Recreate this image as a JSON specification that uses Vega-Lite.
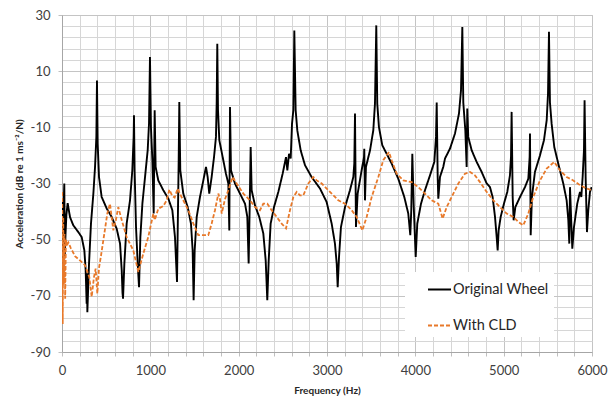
{
"$schema": "https://vega.github.io/schema/vega-lite/v6.json",
"width": 530, "height": 337,
"autosize": {"type": "none"},
"padding": {"left": 62, "top": 15, "right": 18, "bottom": 51},
"background": "white",
"config": {
  "view": {"stroke": "#bfbfbf"},
  "font": "Lato",
  "legend": {"orient": "none", "legendX": 343, "legendY": 257, "fillColor": "white", "padding": 5, "symbolType": "stroke", "symbolSize": 529, "symbolStrokeWidth": 2, "symbolOffset": 17, "labelOffset": 1, "labelFontSize": 14.5, "labelColor": "#262626", "labelFont": "Lato", "rowPadding": 17, "labelLimit": 300}
},
"datasets": {
"orig": [
[0,-36],[5,-58],[10,-40],[16,-62],[22,-34],[26,-30],[32,-56],[40,-48],[50,-41],[64,-37],[91,-42],[128,-44.9],[185,-47.3],[223,-49.1],[253,-53.8],[268,-60.9],[279,-72.8],[283,-62],[287,-75.8],[306,-58.5],[328,-44.3],[355,-33.6],[374,-24.1],[389,-13.4],[396,6.7],[404,-15.8],[419,-27.7],[449,-34.8],[506,-38.9],[562,-41.9],[619,-46.1],[657,-51.4],[676,-60.9],[685,-69],[691,-71],[706,-58.5],[732,-44.3],[770,-36],[796,-25.3],[811,-13.4],[815,-5.7],[822,-25.3],[838,-45.5],[857,-58.5],[872,-66.9],[887,-49.1],[910,-37.2],[940,-27.7],[970,-18.2],[985,-8.7],[996,15],[1007,-9.9],[1023,-21.7],[1038,-40.7],[1049,-3.9],[1060,-24.1],[1090,-28.9],[1147,-32.4],[1204,-35.4],[1249,-39.5],[1279,-49.1],[1302,-65.1],[1313,-39.5],[1321,-21.7],[1328,-1],[1339,-25.3],[1373,-33.6],[1423,-38.4],[1460,-44.3],[1479,-53.8],[1490,-71.6],[1502,-53.8],[1525,-41.9],[1562,-34.8],[1600,-28.9],[1630,-24.1],[1649,-27.7],[1667,-33.6],[1694,-27.7],[1721,-20.6],[1743,-13.4],[1751,-1.6],[1758,19.8],[1766,-3.9],[1781,-14.6],[1819,-20.6],[1856,-26.5],[1883,-30],[1894,-46.7],[1902,-2.8],[1913,-25.3],[1958,-30],[2015,-33.6],[2072,-37.2],[2098,-41.9],[2113,-58.5],[2124,-39.5],[2136,-17],[2147,-32.4],[2185,-37.8],[2233,-41.9],[2279,-47.8],[2306,-57.4],[2324,-71.6],[2340,-57.4],[2362,-44.3],[2400,-38.4],[2449,-33],[2498,-26.5],[2536,-20.6],[2551,-25.3],[2570,-19.4],[2589,-21.1],[2604,-8.7],[2619,-3.9],[2630,24.5],[2645,-3.9],[2664,-11.1],[2702,-18.2],[2751,-23.5],[2826,-27.7],[2921,-31.8],[2996,-36.6],[3053,-44.3],[3090,-51.4],[3110,-58.5],[3121,-66.9],[3136,-56.2],[3158,-45.5],[3204,-38.4],[3260,-32.4],[3298,-27.7],[3309,-22.9],[3317,-5.1],[3328,-45.5],[3347,-33.6],[3392,-25.3],[3419,-20.6],[3422,-17.6],[3430,-36],[3441,-24.1],[3487,-18.2],[3524,-11.1],[3543,-1.6],[3558,26.3],[3569,-1.6],[3588,-9.9],[3626,-16.4],[3675,-19.4],[3732,-22.9],[3807,-28.3],[3875,-34.8],[3920,-40.7],[3943,-48.4],[3954,-39.5],[3966,-19.4],[3981,-37.2],[4004,-56.2],[4022,-44.3],[4064,-37.2],[4109,-32.4],[4166,-27.1],[4215,-22.3],[4234,-13.4],[4242,-1.2],[4253,-27.7],[4260,-35.4],[4279,-27.7],[4316,-24.1],[4336,-21.1],[4392,-17.6],[4449,-12.2],[4494,-5.1],[4517,3.2],[4532,25.7],[4543,-1.2],[4566,-11.1],[4581,-24.1],[4588,-3.3],[4599,-13.4],[4638,-18.2],[4694,-22.3],[4751,-25.9],[4808,-30],[4845,-31.3],[4875,-34.8],[4902,-41.9],[4921,-49.1],[4932,-53.8],[4943,-46.7],[4966,-41.9],[5003,-37.2],[5041,-33],[5071,-27.1],[5083,-20.6],[5090,-4.5],[5102,-34.8],[5113,-43.1],[5132,-38.4],[5185,-34.8],[5241,-31.3],[5279,-28.3],[5294,-20.6],[5298,-12.2],[5306,-48.4],[5320,-34.8],[5354,-25.9],[5411,-20],[5456,-14.6],[5487,-7.5],[5502,2],[5513,24],[5524,-1.2],[5543,-8.7],[5573,-17],[5618,-22.9],[5675,-30],[5713,-36],[5732,-43.1],[5743,-51.4],[5751,-31.3],[5766,-44.3],[5777,-53.2],[5796,-45.5],[5833,-37.2],[5864,-33],[5879,-34.8],[5894,-27.7],[5909,-18.2],[5916,-0.4],[5928,-27.7],[5943,-47.3],[5958,-39.5],[5977,-33],[5996,-31.3]
],
"cld": [
[2,-33],[8,-80],[14,-42],[20,-66],[28,-48],[36,-71],[44,-50],[55,-52],[72,-51],[100,-53],[150,-56],[204,-57.4],[260,-59.1],[309,-63.3],[336,-70.4],[362,-63.3],[381,-60.3],[400,-69.2],[419,-60],[440,-56],[468,-50.2],[513,-40.7],[543,-37.2],[581,-46.7],[610,-43],[637,-38.4],[676,-43],[732,-49.1],[807,-53.8],[864,-61.5],[920,-55],[977,-49],[1034,-40.7],[1050,-43],[1090,-39],[1147,-38],[1185,-36],[1215,-32.2],[1250,-34.5],[1275,-35],[1310,-31.8],[1340,-34],[1373,-36],[1430,-39.5],[1487,-44.3],[1543,-48.4],[1656,-48.4],[1694,-44.3],[1732,-39.5],[1770,-33.6],[1789,-35.6],[1808,-40.7],[1845,-35.6],[1883,-32.4],[1932,-27.7],[1977,-30],[2053,-33.6],[2128,-36],[2185,-38.4],[2241,-39.5],[2279,-37.2],[2324,-37.2],[2373,-39.5],[2430,-41.9],[2487,-44.3],[2536,-46],[2581,-39.5],[2619,-34.8],[2657,-33],[2694,-34.2],[2732,-34.2],[2789,-30],[2845,-27.7],[2883,-28.9],[2940,-30],[2996,-31.8],[3053,-33.6],[3128,-36],[3204,-37.2],[3279,-39.5],[3336,-41.9],[3400,-46.7],[3449,-41.9],[3506,-34.8],[3581,-27.7],[3637,-21.7],[3702,-18.8],[3732,-21.7],[3789,-26.5],[3864,-28.9],[3958,-29.5],[4034,-31.3],[4109,-33.6],[4185,-36],[4260,-37.2],[4309,-42.5],[4355,-38.4],[4411,-34.8],[4487,-30],[4562,-26.5],[4619,-25.9],[4675,-27.1],[4732,-29.5],[4808,-33],[4883,-36],[4958,-38.4],[5034,-40.7],[5109,-41.9],[5166,-43.7],[5222,-44.9],[5279,-40.7],[5335,-34.8],[5411,-28.9],[5487,-24.7],[5573,-22.3],[5637,-25.3],[5713,-27.7],[5788,-28.9],[5864,-30.6],[5939,-31.8],[6000,-32.4]
]
},
"layer": [
 {
  "data": {"name": "orig"},
  "transform": [{"calculate": "datum[0]", "as": "f"}, {"calculate": "datum[1]", "as": "a"}],
  "mark": {"type": "line", "strokeWidth": 1.9, "clip": true},
  "encoding": {
   "x": {"field": "f", "type": "quantitative", "scale": {"domain": [0, 6000], "nice": false}, "title": "Frequency (Hz)",
     "axis": {"values": [0,200,400,600,800,1000,1200,1400,1600,1800,2000,2200,2400,2600,2800,3000,3200,3400,3600,3800,4000,4200,4400,4600,4800,5000,5200,5400,5600,5800,6000],
       "tickCount": 100, "labelOverlap": false,
       "labelExpr": "datum.value % 1000 == 0 ? '' + datum.value : ''",
       "labelFontSize": 13, "labelColor": "#404040", "labelPadding": 8, "tickSize": 4, "tickColor": "#bfbfbf", "domainColor": "#a6a6a6",
       "gridColor": {"condition": {"test": "datum.value % 1000 == 0", "value": "#c4c4c4"}, "value": "#d6d6d6"},
       "titleFontSize": 10, "titleFontWeight": "bold", "titleColor": "#262626", "titlePadding": 8, "labelFlush": false}},
   "y": {"field": "a", "type": "quantitative", "scale": {"domain": [-90, 30], "nice": false, "zero": false}, "title": "Acceleration (dB re 1 ms⁻²/N)",
     "axis": {"values": [-90,-86,-82,-78,-74,-70,-66,-62,-58,-54,-50,-46,-42,-38,-34,-30,-26,-22,-18,-14,-10,-6,-2,2,6,10,14,18,22,26,30],
       "tickCount": 100, "labelOverlap": false,
       "labelExpr": "(datum.value + 90) % 20 == 0 ? '' + datum.value : ''",
       "labelFontSize": 13, "labelColor": "#404040", "labelPadding": 8, "tickSize": 4, "tickColor": "#bfbfbf",
       "tickOpacity": {"condition": {"test": "(datum.value + 90) % 20 == 0", "value": 1}, "value": 0},
       "domainColor": "#a6a6a6",
       "gridColor": {"condition": {"test": "(datum.value + 90) % 20 == 0", "value": "#c4c4c4"}, "value": "#d6d6d6"},
       "titleFontSize": 10, "titleFontWeight": "bold", "titleColor": "#262626", "titlePadding": 6, "labelFlush": false}},
   "color": {"datum": "Original Wheel", "type": "nominal", "title": null, "scale": {"domain": ["Original Wheel", "With CLD"], "range": ["#000000", "#E8792A"]}},
   "strokeDash": {"datum": "Original Wheel", "type": "nominal", "title": null, "scale": {"domain": ["Original Wheel", "With CLD"], "range": [[1, 0], [4, 2]]}}
  }
 },
 {
  "data": {"name": "cld"},
  "transform": [{"calculate": "datum[0]", "as": "f"}, {"calculate": "datum[1]", "as": "a"}],
  "mark": {"type": "line", "strokeWidth": 1.8, "clip": true},
  "encoding": {
   "x": {"field": "f", "type": "quantitative"},
   "y": {"field": "a", "type": "quantitative"},
   "color": {"datum": "With CLD", "type": "nominal", "title": null},
   "strokeDash": {"datum": "With CLD", "type": "nominal", "title": null}
  }
 }
]
}
